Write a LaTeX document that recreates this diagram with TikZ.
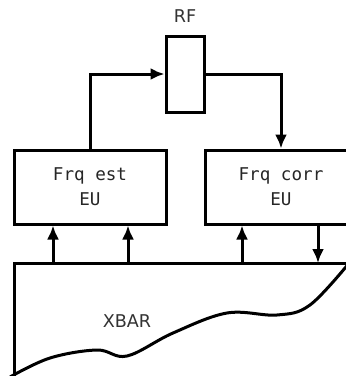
\documentclass[tikz,border=0pt]{standalone}
\usepackage{fontspec}
\setmainfont{DejaVu Sans}
\setmonofont{DejaVu Sans Mono}
\usetikzlibrary{arrows.meta, positioning}

\begin{document}
\begin{tikzpicture}[
    x=0.5pt, y=-0.5pt,
    line width=1.5pt,
    eubox/.style={rectangle, draw, minimum width=76pt, minimum height=37pt,
                  align=center, font=\ttfamily\fontsize{8.8}{12.5}\selectfont, text=black!85},
    regbox/.style={rectangle, draw, minimum width=19pt, minimum height=38pt},
    tag/.style={font=\fontsize{8.8}{12.5}\selectfont, text=black!80},
    arrow/.style={-{Latex[length=7pt, width=6pt]}}
]
    \useasboundingbox (0,0) rectangle (346,376);
    \clip (0,0) rectangle (346,376);

    % Execution units
    \node[eubox] (frqest) at (90,187) {Frq est\\EU};
    \node[eubox, right=18pt of frqest] (frqcorr) {Frq corr\\EU};

    % Register file
    \node[regbox] (rf) at (185,74) {};
    \node[tag, above=2pt of rf] (rflabel) {RF};

    % Crossbar
    \coordinate (xbar) at (14,263);
    \draw (360,263) -- (xbar) -- (14,380);
    \draw plot[smooth, tension=0.6] coordinates {(10,377) (50,358) (97,350) (127,356)
        (173,333) (227,313) (277,315) (310,305) (350,262)};
    \node[tag] (xbarlabel) at (127,321) {XBAR};

    % Ports on the crossbar
    \coordinate (p1) at (53,263);
    \coordinate (p2) at (128,263);
    \coordinate (p3) at (242,263);
    \coordinate (p4) at (318,263);

    % Arrows
    \draw[arrow] (frqest.north) |- (rf.west);
    \draw[arrow] (rf.east) -| (frqcorr.north);
    \draw[arrow] (p1) -- (p1 |- frqest.south);
    \draw[arrow] (p2) -- (p2 |- frqest.south);
    \draw[arrow] (p3) -- (p3 |- frqcorr.south);
    \draw[arrow] (p4 |- frqcorr.south) -- (p4);

\end{tikzpicture}
\end{document}
